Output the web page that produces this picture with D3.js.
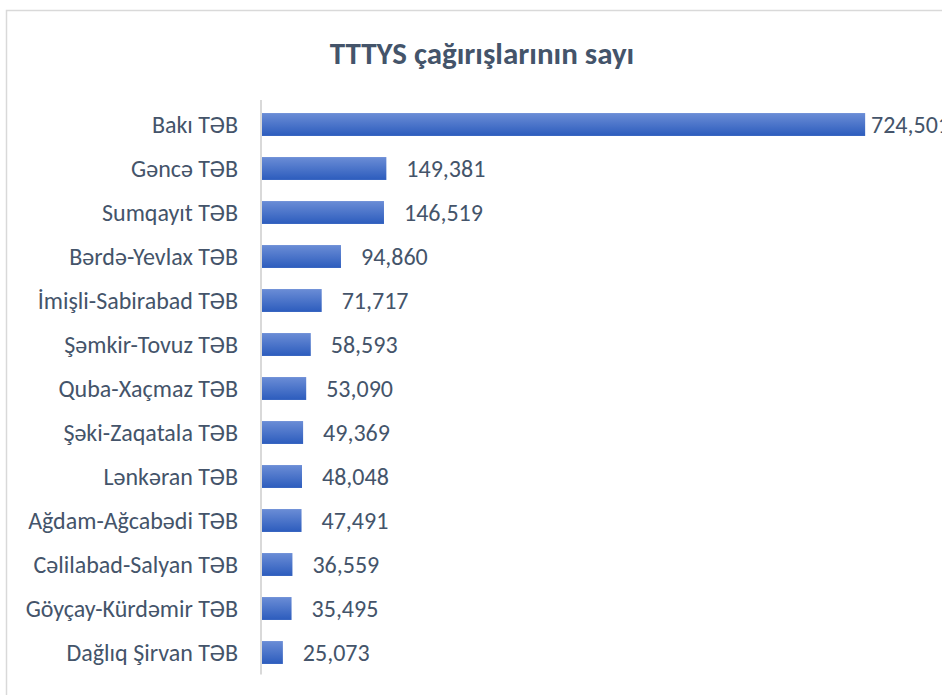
<!DOCTYPE html>
<html>
<head>
<meta charset="utf-8">
<script src="https://cdn.jsdelivr.net/npm/d3@7"></script>
<style>
  body { margin: 0; background: #fff; }
  text { font-family: Carlito, Calibri, Lato, sans-serif; fill: #44546a; }
</style>
</head>
<body>
<svg id="chart"></svg>
<script>
var regions = [
  "Bakı TƏB",
  "Gəncə TƏB",
  "Sumqayıt TƏB",
  "Bərdə-Yevlax TƏB",
  "İmişli-Sabirabad TƏB",
  "Şəmkir-Tovuz TƏB",
  "Quba-Xaçmaz TƏB",
  "Şəki-Zaqatala TƏB",
  "Lənkəran TƏB",
  "Ağdam-Ağcabədi TƏB",
  "Cəlilabad-Salyan TƏB",
  "Göyçay-Kürdəmir TƏB",
  "Dağlıq Şirvan TƏB"
];
var calls = [
  724501,
  149381,
  146519,
  94860,
  71717,
  58593,
  53090,
  49369,
  48048,
  47491,
  36559,
  35495,
  25073
];
var title = "TTTYS çağırışlarının sayı";

var data = regions.map(function (r, i) {
  return {region: r, value: calls[i]};
});

const width = 942,
  height = 695,
  plot = {left: 262, right: 928, top: 102.5, bottom: 674.5},
  fontSize = 24;

const svg = d3
  .select("#chart")
  .attr("width", width)
  .attr("height", height);

// chart frame (runs off the page at right and bottom)
svg.append("rect")
  .attr("x", 6.5)
  .attr("y", 10.5)
  .attr("width", 1000)
  .attr("height", 800)
  .attr("fill", "#fff")
  .attr("stroke", "#d9d9d9")
  .attr("stroke-width", 1.5);

const grad = svg.append("defs")
  .append("linearGradient")
  .attr("id", "barFill")
  .attr("x1", 0).attr("y1", 0)
  .attr("x2", 0).attr("y2", 1);
grad.append("stop").attr("offset", "0%").attr("stop-color", "#6b8dd6");
grad.append("stop").attr("offset", "100%").attr("stop-color", "#2c5cbd");

svg.append("text")
  .attr("x", 482)
  .attr("y", 64)
  .attr("text-anchor", "middle")
  .style("font-size", "31px")
  .style("font-weight", "bold")
  .text(title);

const x = d3.scaleLinear()
  .domain([0, 800000])
  .range([plot.left, plot.right]);

const y = d3.scaleBand()
  .domain(regions)
  .range([plot.top, plot.bottom])
  .paddingInner(0.48)
  .paddingOuter(0.24);

svg.append("line")
  .attr("x1", plot.left - 1)
  .attr("x2", plot.left - 1)
  .attr("y1", 100)
  .attr("y2", plot.bottom)
  .attr("stroke", "#d9d9d9")
  .attr("stroke-width", 2);

svg.selectAll(".bar")
  .data(data)
  .enter()
  .append("rect")
  .attr("class", "bar")
  .attr("x", x(0))
  .attr("y", (d) => y(d.region))
  .attr("width", (d) => x(d.value) - x(0))
  .attr("height", y.bandwidth())
  .attr("fill", "url(#barFill)");

svg.selectAll(".cat")
  .data(data)
  .enter()
  .append("text")
  .attr("class", "cat")
  .attr("x", plot.left - 24)
  .attr("y", (d) => y(d.region) + y.bandwidth() / 2)
  .attr("dy", "0.36em")
  .attr("text-anchor", "end")
  .style("font-size", fontSize + "px")
  .style("font-weight", 300)
  .text((d) => d.region);

// value labels sit 20px past the bar end, but are pulled back inside the chart area
const fmt = d3.format(",");
svg.selectAll(".val")
  .data(data)
  .enter()
  .append("text")
  .attr("class", "val")
  .attr("x", (d) => Math.min(x(d.value) + 20, plot.right + 20 - 77))
  .attr("y", (d) => y(d.region) + y.bandwidth() / 2)
  .attr("dy", "0.36em")
  .style("font-size", fontSize + "px")
  .style("font-weight", 300)
  .text((d) => fmt(d.value));
</script>
</body>
</html>
